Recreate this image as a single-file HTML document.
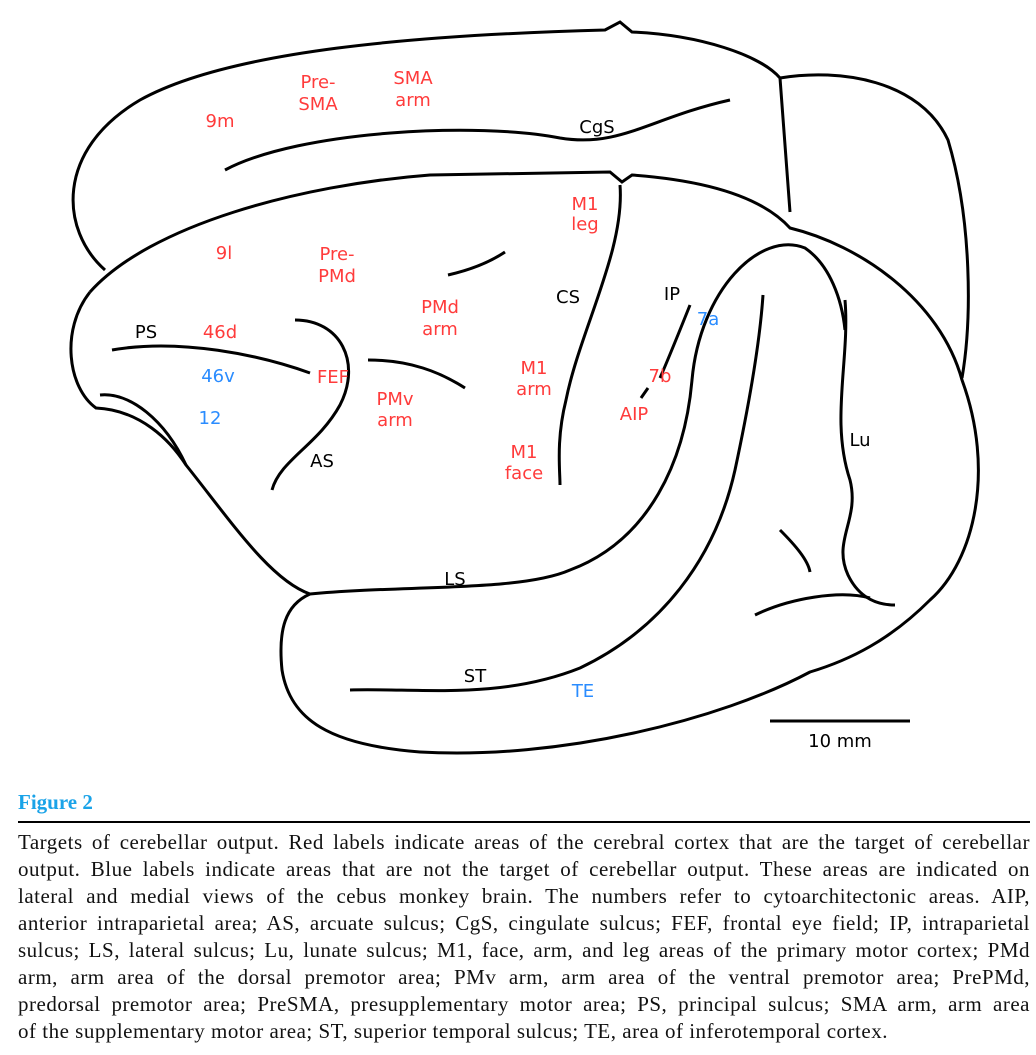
<!DOCTYPE html>
<html><head><meta charset="utf-8"><style>
body{margin:0;background:#fff;width:1036px;height:1055px;overflow:hidden;position:relative}
svg{position:absolute;left:0;top:0}
.r{fill:#ff3b3b;font:18px "DejaVu Sans",sans-serif;text-anchor:middle}
.b{fill:#2a8cff;font:18px "DejaVu Sans",sans-serif;text-anchor:middle}
.k{fill:#000;font:18px "DejaVu Sans",sans-serif;text-anchor:middle}
#fig{position:absolute;left:18px;top:790px;color:#1aa3e8;font:bold 21px "Liberation Serif",serif}
#rule{position:absolute;left:18px;top:821px;width:1012px;height:1.5px;background:#000}
#cap{position:absolute;left:18px;top:829px;width:1012px;font:21px/27px "Liberation Serif",serif;color:#111;letter-spacing:0.5px}
#cap div{text-align:justify;text-align-last:justify;white-space:nowrap}
#cap div.l{text-align-last:left}
</style></head><body>
<svg width="1036" height="790" fill="none" stroke="#000" stroke-width="3">
<g>
<path d="M105,270 C60,230 55,150 140,100 C230,50 420,35 605,30 L620,22 L632,32 C700,35 760,55 780,78 L790,212"/>
<path d="M780,78 C840,68 920,80 948,140 C972,220 972,320 962,378"/>
<path d="M225,170 C300,130 480,122 560,138 C620,148 650,118 730,100"/>
</g>
<g>
<path d="M90,292 C150,225 300,185 430,175 L610,172 L622,182 L632,175 C700,180 760,195 790,228 C860,245 940,300 962,380 C995,470 975,560 930,600 C890,640 850,660 810,672 C720,720 560,760 420,752 C330,745 290,720 282,670 C278,630 285,605 310,594"/>
<path d="M90,292 C60,330 68,388 96,408 C140,410 170,440 186,465 C230,520 270,580 310,594 C400,585 520,592 570,570 C650,540 685,460 692,380 C700,290 760,230 805,248 C830,265 842,300 845,330"/>
<path d="M845,300 C850,360 830,420 850,480 C860,520 832,540 848,575 C860,600 880,605 895,605"/>
<path d="M350,690 C420,688 500,700 580,668 C660,630 715,560 735,470 C750,400 760,340 763,295"/>
<path d="M780,530 C795,545 808,560 810,572"/>
<path d="M755,615 C790,598 840,590 870,598"/>
<path d="M112,350 C180,338 260,355 310,373"/>
<path d="M295,320 C340,320 362,362 340,405 C318,445 280,460 272,490"/>
<path d="M368,360 C410,360 440,372 465,388"/>
<path d="M448,275 C470,270 490,262 505,252"/>
<path d="M620,185 C625,250 580,330 566,400 C556,440 560,470 560,485"/>
<path d="M690,305 C680,330 670,355 660,378"/>
<path d="M641,398 L648,388"/>
<path d="M100,395 C130,392 165,420 186,465"/>
</g>
<line x1="770" y1="721" x2="910" y2="721"/>
<g stroke="none">
<text class="r" x="318" y="88">Pre-</text><text class="r" x="318" y="110">SMA</text>
<text class="r" x="413" y="84">SMA</text><text class="r" x="413" y="106">arm</text>
<text class="r" x="220" y="127">9m</text>
<text class="k" x="597" y="133">CgS</text>
<text class="r" x="585" y="210">M1</text><text class="r" x="585" y="230">leg</text>
<text class="r" x="224" y="259">9l</text>
<text class="r" x="337" y="260">Pre-</text><text class="r" x="337" y="282">PMd</text>
<text class="k" x="568" y="303">CS</text>
<text class="k" x="672" y="300">IP</text>
<text class="b" x="708" y="325">7a</text>
<text class="r" x="440" y="313">PMd</text><text class="r" x="440" y="335">arm</text>
<text class="k" x="146" y="338">PS</text>
<text class="r" x="220" y="338">46d</text>
<text class="b" x="218" y="382">46v</text>
<text class="r" x="333" y="383">FEF</text>
<text class="r" x="534" y="374">M1</text><text class="r" x="534" y="395">arm</text>
<text class="r" x="660" y="382">7b</text>
<text class="r" x="395" y="405">PMv</text><text class="r" x="395" y="426">arm</text>
<text class="b" x="210" y="424">12</text>
<text class="r" x="634" y="420">AIP</text>
<text class="k" x="860" y="446">Lu</text>
<text class="k" x="322" y="467">AS</text>
<text class="r" x="524" y="458">M1</text><text class="r" x="524" y="479">face</text>
<text class="k" x="455" y="585">LS</text>
<text class="k" x="475" y="682">ST</text>
<text class="b" x="583" y="697">TE</text>
<text class="k" x="840" y="747">10 mm</text>
</g>
</svg>
<div id="fig">Figure 2</div>
<div id="rule"></div>
<div id="cap">
<div>Targets of cerebellar output. Red labels indicate areas of the cerebral cortex that are the target of cerebellar</div>
<div>output. Blue labels indicate areas that are not the target of cerebellar output. These areas are indicated on</div>
<div>lateral and medial views of the cebus monkey brain. The numbers refer to cytoarchitectonic areas. AIP,</div>
<div>anterior intraparietal area; AS, arcuate sulcus; CgS, cingulate sulcus; FEF, frontal eye field; IP, intraparietal</div>
<div>sulcus; LS, lateral sulcus; Lu, lunate sulcus; M1, face, arm, and leg areas of the primary motor cortex; PMd</div>
<div>arm, arm area of the dorsal premotor area; PMv arm, arm area of the ventral premotor area; PrePMd,</div>
<div>predorsal premotor area; PreSMA, presupplementary motor area; PS, principal sulcus; SMA arm, arm area</div>
<div class="l">of the supplementary motor area; ST, superior temporal sulcus; TE, area of inferotemporal cortex.</div>
</div>
</body></html>
